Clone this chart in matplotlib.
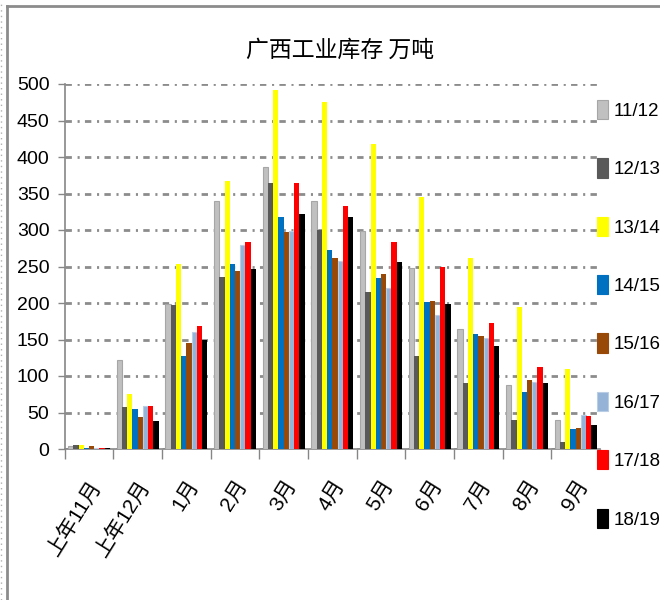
import numpy as np
import matplotlib
matplotlib.use("Agg")
import matplotlib.pyplot as plt
from matplotlib.patches import Patch
from matplotlib.lines import Line2D

plt.rcParams["font.family"] = ["Liberation Sans", "Noto Sans CJK SC", "DejaVu Sans"]
plt.rcParams["lines.scale_dashes"] = False

# ---------------------------------------------------------------- data (万吨)
months = ["上年11月", "上年12月", "1月", "2月", "3月", "4月", "5月", "6月", "7月", "8月", "9月"]
seasons = ["11/12", "12/13", "13/14", "14/15", "15/16", "16/17", "17/18", "18/19"]
s1112 = [4, 122, 198, 340, 386, 340, 298, 248, 165, 88, 40]
s1213 = [6, 57, 197, 236, 365, 300, 215, 128, 91, 40, 10]
s1314 = [6, 76, 253, 367, 492, 475, 418, 345, 262, 194, 110]
s1415 = [2, 55, 128, 253, 318, 273, 234, 202, 157, 78, 27]
s1516 = [4, 44, 145, 244, 297, 261, 240, 203, 155, 94, 29]
s1617 = [2, 59, 160, 279, 299, 257, 220, 184, 152, 92, 47]
s1718 = [2, 59, 168, 283, 365, 333, 283, 249, 172, 113, 45]
s1819 = [2, 38, 150, 247, 322, 318, 256, 199, 141, 91, 33]
series = [s1112, s1213, s1314, s1415, s1516, s1617, s1718, s1819]

COLORS = ["#c0c0c0", "#595959", "#ffff00", "#0070c0", "#984807", "#95b3d7", "#ff0000", "#000000"]
EDGES = ["#a6a6a6", "none", "none", "none", "none", "#b9cde5", "none", "none"]
GRID = "#8c8c8c"

fig = plt.figure(figsize=(6.6, 6.0), dpi=100)
ax = fig.add_axes([64.7 / 660, 1 - 449 / 600, (600 - 64.7) / 660, 365 / 600])

x = np.arange(len(months))
n = len(series)
bw = 0.86 / n
for i, (vals, col, ec) in enumerate(zip(series, COLORS, EDGES)):
    ax.bar(x - 0.43 + bw * (i + 0.5), vals, width=bw, color=col, edgecolor=ec,
           linewidth=0.8 if ec != "none" else 0, zorder=3)

ax.set_xlim(-0.5, len(months) - 0.5)
ax.set_ylim(0, 500)
ax.set_yticks(np.arange(0, 501, 50))
ax.tick_params(axis="y", labelsize=14, length=5, width=1, color="#868686", pad=6)
ax.yaxis.grid(True, color=GRID, lw=2.0, linestyle=(0, (4.6, 4.1, 1.5, 3.8)), zorder=1)
ax.set_axisbelow(True)

# category labels at centres, tick marks at boundaries
ax.set_xticks(x)
ax.set_xticklabels(months, rotation=58, ha="right", va="top", rotation_mode="anchor", fontsize=15)
ax.tick_params(axis="x", which="major", length=0, pad=20)
ax.set_xticks(np.arange(-0.5, len(months)), minor=True)
ax.tick_params(axis="x", which="minor", length=7, width=1, color="#868686")

for s in ("top", "right"):
    ax.spines[s].set_visible(False)
for s in ("left", "bottom"):
    ax.spines[s].set_color("#868686")
    ax.spines[s].set_linewidth(1.2)

fig.text(0.515, 1 - 50 / 600, "广西工业库存 万吨", ha="center", va="center", fontsize=16.5,
         family=["Noto Sans CJK SC", "DejaVu Sans"])

handles = [Patch(facecolor=c, edgecolor=e if e != "none" else c, linewidth=0.8) for c, e in zip(COLORS, EDGES)]
fig.legend(handles, seasons, loc="upper left", bbox_to_anchor=(597 / 660, 1 - 100 / 600),
           frameon=False, fontsize=13.5, handlelength=0.6, handleheight=1.2,
           handletextpad=0.3, labelspacing=2.05, borderpad=0, borderaxespad=0)

# outer frame of the screenshot
fig.add_artist(Line2D([7 / 660, 7 / 660], [0, 1 - 6 / 600], transform=fig.transFigure, color="#8c8c8c", lw=2))
fig.add_artist(Line2D([7 / 660, 1], [1 - 6 / 600, 1 - 6 / 600], transform=fig.transFigure, color="#8c8c8c", lw=2))
fig.add_artist(Line2D([1 / 660, 1 / 660], [0, 1], transform=fig.transFigure, color="#b0b0b0", lw=1,
                      linestyle=(0, (1, 3))))

fig.savefig("out.png", dpi=100)
